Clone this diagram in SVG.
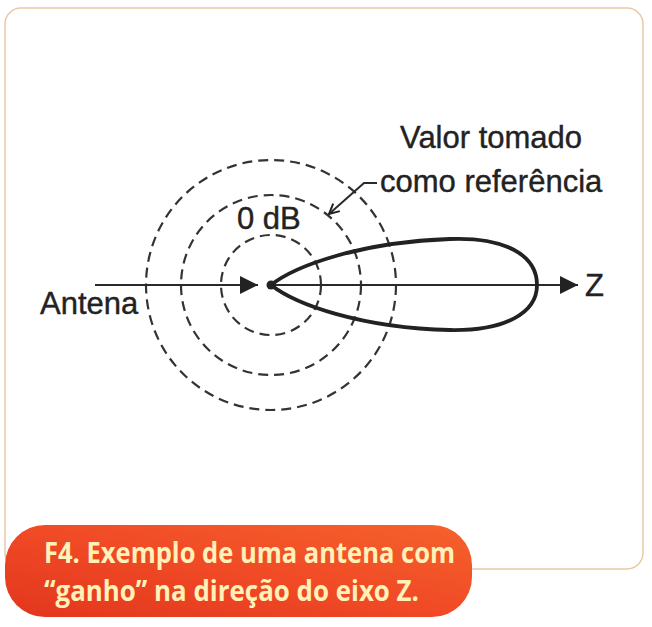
<svg xmlns="http://www.w3.org/2000/svg" width="652" height="627" viewBox="0 0 652 627">
  <defs>
    <style>
      .lbl { font-family: "Liberation Sans", Arial, sans-serif; font-size: 31px; fill: #222; stroke: #222; stroke-width: 0.4; }
      .ring { fill: none; stroke: #333; stroke-width: 2.2; stroke-dasharray: 10 6; }
      .axis { fill: none; stroke: #2a2a2a; stroke-width: 2; }
      .cap { font-family: "Open Sans", "Noto Sans", sans-serif; font-weight: 700; font-size: 29px; fill: #fff1b8; }
    </style>
    <linearGradient id="capGrad" x1="0" y1="1" x2="1" y2="0">
      <stop offset="0" stop-color="#e2361d"/>
      <stop offset="0.5" stop-color="#f04a26"/>
      <stop offset="1" stop-color="#f5622c"/>
    </linearGradient>
    <marker id="solidArrow" viewBox="0 0 18 18" markerWidth="18" markerHeight="18" refX="18" refY="9" orient="auto" markerUnits="userSpaceOnUse">
      <path d="M0,0 L18,9 L0,18 Z" fill="#222"/>
    </marker>
    <marker id="openArrow" viewBox="0 0 12 12" markerWidth="12" markerHeight="12" refX="11" refY="6" orient="auto" markerUnits="userSpaceOnUse">
      <path d="M1,1 L11,6 L1,11" fill="none" stroke="#222" stroke-width="2"/>
    </marker>
  </defs>

  <rect x="0" y="0" width="652" height="627" fill="#ffffff"/>

  <g id="frame">
    <rect x="5" y="8" width="638" height="561" rx="16" ry="16" fill="none" stroke="#e7c9a2" stroke-width="1.5"/>
  </g>

  <g id="rings">
    <circle class="ring" cx="271" cy="285" r="125"/>
    <circle class="ring" cx="271" cy="285" r="90"/>
    <circle class="ring" cx="271" cy="285" r="50"/>
  </g>

  <g id="connectors">
    <line class="axis" x1="95" y1="285" x2="258" y2="285" marker-end="url(#solidArrow)"/>
    <line class="axis" x1="271" y1="285" x2="578" y2="285" marker-end="url(#solidArrow)"/>
    <polyline points="377,183 364,183 329,214" fill="none" stroke="#2a2a2a" stroke-width="2" marker-end="url(#openArrow)"/>
  </g>

  <g id="lobe">
    <path d="M271,285 C295,266 360,242 450,239 C505,237 537,255 537,285 C537,313 505,331 450,330 C360,328 295,304 271,285 Z" fill="none" stroke="#222" stroke-width="3.8" stroke-linejoin="round"/>
    <circle cx="271" cy="285" r="4.5" fill="#222"/>
  </g>

  <g id="labels">
    <text class="lbl" x="40" y="314">Antena</text>
    <text class="lbl" x="237" y="229">0 dB</text>
    <text class="lbl" x="585" y="296">Z</text>
    <text class="lbl" x="400" y="148">Valor tomado</text>
    <text class="lbl" x="380" y="192">como referência</text>
  </g>

  <g id="caption">
    <rect x="5" y="525" width="467" height="92" rx="40" ry="40" fill="url(#capGrad)"/>
    <text class="cap" x="44" y="563" textLength="411" lengthAdjust="spacingAndGlyphs">F4. Exemplo de uma antena com</text>
    <text class="cap" x="44" y="601" textLength="375" lengthAdjust="spacingAndGlyphs">“ganho” na direção do eixo Z.</text>
  </g>
</svg>
